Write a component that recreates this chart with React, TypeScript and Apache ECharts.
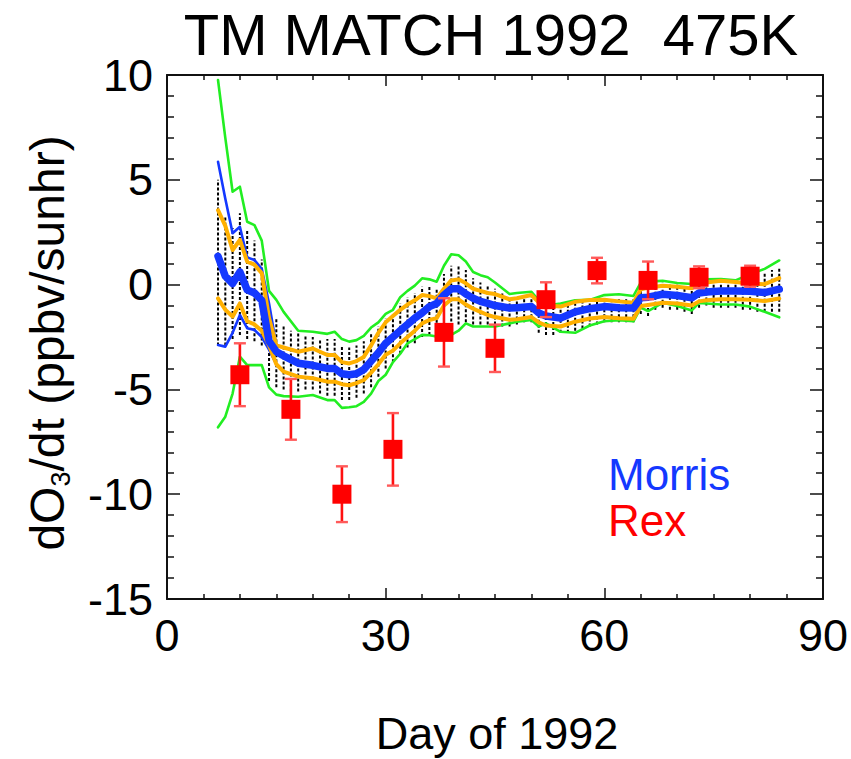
import React, { useEffect, useRef } from "react";
import * as echarts from "echarts";

// ---- data ----
const days = [7, 8, 9, 10, 11, 12, 13, 14, 15, 16, 18, 20, 22, 23, 24, 25, 26, 27, 28, 29, 30, 31, 32, 33, 34, 35, 36, 37, 38, 39, 40, 41, 42, 43, 44, 45, 47, 48, 50, 51, 52, 54, 56, 58, 60, 62, 64, 65, 66, 68, 70, 72, 73, 74, 76, 78, 80, 82, 84];

const morrisMean = [1.35, 0.4, 0.05, 0.6, -0.25, -0.4, -0.75, -2.7, -3.2, -3.4, -3.75, -3.85, -4.0, -4.0, -4.25, -4.3, -4.25, -4.05, -3.65, -3.25, -2.8, -2.5, -2.2, -1.9, -1.6, -1.35, -1.05, -0.9, -0.5, -0.2, -0.2, -0.45, -0.65, -0.8, -0.9, -1.0, -1.12, -1.1, -1.05, -1.35, -1.5, -1.6, -1.3, -1.15, -1.05, -1.1, -1.12, -0.63, -0.6, -0.46, -0.52, -0.63, -0.4, -0.35, -0.3, -0.3, -0.32, -0.38, -0.22];

const orangeUpper = [3.55, 2.8, 1.65, 2.13, 1.1, 0.95, 0.55, -1.6, -2.9, -3.0, -3.2, -3.05, -3.36, -3.36, -3.7, -3.76, -3.65, -3.45, -2.9, -2.3, -1.8, -1.5, -1.2, -0.95, -0.75, -0.5, -0.55, -0.66, -0.2, 0.2, 0.25, 0.06, -0.2, -0.3, -0.4, -0.45, -0.7, -0.65, -0.5, -0.85, -1.0, -1.05, -0.82, -0.73, -0.72, -0.8, -0.87, -0.22, -0.15, -0.06, -0.1, -0.18, 0.05, 0.1, 0.18, 0.12, 0.05, 0.02, 0.31];

const orangeLower = [-0.66, -1.2, -1.53, -0.9, -1.75, -1.9, -2.2, -2.9, -3.8, -4.15, -4.39, -4.47, -4.63, -4.63, -4.75, -4.8, -4.7, -4.55, -4.2, -3.8, -3.35, -3.15, -2.8, -2.5, -2.2, -1.85, -1.69, -1.6, -1.0, -0.7, -0.7, -0.95, -1.15, -1.3, -1.45, -1.55, -1.68, -1.65, -1.55, -1.8, -1.95, -2.0, -1.77, -1.62, -1.55, -1.6, -1.63, -1.02, -0.97, -0.87, -0.9, -1.0, -0.8, -0.75, -0.7, -0.7, -0.72, -0.78, -0.66];

const greenUpper = [9.76, 7.0, 4.43, 4.67, 3.0, 2.84, 2.1, -0.3, -0.73, -1.3, -2.2, -2.25, -2.35, -2.25, -2.6, -2.72, -2.65, -2.45, -2.05, -1.8, -1.4, -1.2, -0.6, -0.3, -0.05, 0.3, 0.25, 0.14, 0.9, 1.45, 1.4, 1.1, 0.6, 0.45, 0.35, 0.1, -0.45, -0.4, -0.34, -0.75, -1.0, -0.9, -0.75, -0.73, -0.5, -0.46, -0.54, 0.1, 0.15, 0.18, 0.08, 0.03, 0.15, 0.25, 0.27, 0.2, 0.5, 0.75, 1.15];

const greenLower = [-6.81, -6.3, -5.2, -3.44, -3.84, -3.84, -3.84, -4.9, -5.25, -5.32, -5.35, -5.27, -5.51, -5.51, -5.88, -5.85, -5.8, -5.6, -5.2, -4.6, -4.3, -3.7, -3.3, -2.8, -2.6, -2.4, -2.42, -2.48, -2.45, -2.4, -2.2, -1.85, -2.0, -2.0, -2.0, -2.0, -1.85, -1.77, -1.69, -2.0, -1.85, -2.25, -2.3, -1.95, -1.75, -1.7, -1.75, -1.1, -1.26, -0.87, -1.02, -1.23, -0.87, -0.9, -0.95, -0.95, -1.05, -1.3, -1.56];

const thinDays = [7, 8, 9, 10, 11, 12, 13, 14, 15];
const blueUpper = [5.86, 4.1, 2.45, 2.76, 1.3, 1.17, 0.75, -0.9, -2.9];
const blueLower = [-2.88, -2.96, -2.3, -1.45, -2.08, -2.16, -2.5, -3.1, -3.8];

const dotDays = [7, 8, 9, 10, 11, 12, 13, 14, 15, 16, 17, 18, 19, 20, 21, 22, 23, 24, 25, 26, 27, 28, 29, 30, 31, 32, 33, 34, 35, 36, 37, 38, 39, 40, 41, 42, 43, 44, 45, 46, 47, 48, 49, 50, 51, 52, 53, 54, 55, 56, 57, 58, 59, 60, 61, 62, 63, 64, 65, 66, 67, 68, 69, 70, 71, 72, 73, 74, 75, 76, 77, 78, 79, 80, 81, 82, 83, 84];
const dotTop = [5.0, 3.3, 2.7, 3.4, 2.6, 2.1, 1.2, -1.3, -1.6, -1.9, -2.2, -2.3, -2.4, -2.5, -2.6, -2.6, -2.6, -2.9, -3.0, -2.9, -2.7, -2.3, -2.0, -1.6, -1.4, -0.9, -0.6, -0.4, -0.1, -0.1, -0.2, 0.5, 0.9, 0.9, 0.7, 0.3, 0.1, 0.0, -0.2, -0.4, -0.6, -0.6, -0.5, -0.5, -0.9, -1.1, -1.1, -1.0, -0.9, -0.9, -0.8, -0.8, -0.7, -0.6, -0.6, -0.6, -0.6, -0.6, 0.0, 0.0, 0.1, 0.1, 0.0, 0.0, -0.1, -0.1, 0.1, 0.2, 0.2, 0.2, 0.2, 0.2, 0.3, 0.4, 0.5, 0.6, 0.7, 0.8];
const dotBottom = [-2.9, -2.9, -2.6, -2.4, -2.6, -2.7, -2.9, -4.6, -4.9, -5.0, -5.1, -5.1, -5.0, -5.0, -5.2, -5.3, -5.3, -5.5, -5.5, -5.4, -5.2, -4.9, -4.4, -4.0, -3.7, -3.3, -3.0, -2.8, -2.5, -2.4, -2.3, -2.2, -2.0, -1.9, -1.8, -1.9, -1.9, -1.9, -1.9, -2.0, -2.0, -1.9, -1.8, -1.8, -2.3, -2.4, -2.4, -2.3, -2.3, -2.2, -2.1, -2.0, -1.9, -1.8, -1.8, -1.8, -1.8, -1.8, -1.4, -1.5, -1.2, -1.1, -1.2, -1.2, -1.3, -1.4, -1.1, -1.0, -1.1, -1.1, -1.1, -1.1, -1.2, -1.2, -1.3, -1.3, -1.3, -1.3];

const rexDays = [10, 17, 24, 31, 38, 45, 52, 59, 66, 73, 80];
const rexValues = [-4.3, -5.95, -10.0, -7.86, -2.28, -3.04, -0.72, 0.67, 0.2, 0.35, 0.4];
const rexErrors = [1.5, 1.45, 1.33, 1.73, 1.63, 1.13, 0.83, 0.61, 0.9, 0.52, 0.5];

const xTicks = [0, 30, 60, 90];
const yTicks = [-15, -5, 0, 5, 10];

const FONT = "'Liberation Sans', Arial, Helvetica, sans-serif";
const BLUE = "#1438ff";
const ORANGE = "#ffb000";
const GREEN = "#22ee22";
const RED = "#ff0000";

const pair = (xs: number[], ys: number[]) => xs.map((x, i) => [x, ys[i]]);

function lineSeries(name: string, xs: number[], ys: number[], color: string, width: number, z: number) {
  return {
    name,
    type: "line",
    data: pair(xs, ys),
    showSymbol: false,
    symbol: "none",
    lineStyle: { color, width, cap: "round", join: "round" },
    z,
    silent: true,
  };
}

export default function App() {
  const ref = useRef<HTMLDivElement>(null);
  useEffect(() => {
    const chart = echarts.init(ref.current!, null, { renderer: "svg" });
    const axisCommon = {
      type: "value",
      axisLine: { show: true, onZero: false, lineStyle: { color: "#111", width: 2 } },
      splitLine: { show: false },
    };
    const xTick = { show: true, inside: true, length: 11, lineStyle: { color: "#111", width: 1.5 } };
    const xMinor = { show: true, splitNumber: 6, length: 5, lineStyle: { color: "#111", width: 1.5 } };
    const yTick = { show: true, inside: true, length: 13, lineStyle: { color: "#111", width: 1.5 } };
    const yMinor = { show: true, splitNumber: 5, length: 7, lineStyle: { color: "#111", width: 1.5 } };
    const option: any = {
      animation: false,
      backgroundColor: "#fff",
      textStyle: { fontFamily: FONT },
      grid: { left: 167, top: 75, width: 657, height: 524 },
      xAxis: [
        {
          ...axisCommon,
          position: "bottom",
          min: xTicks[0],
          max: xTicks[xTicks.length - 1],
          interval: 30,
          axisTick: xTick,
          minorTick: xMinor,
          axisLabel: { fontSize: 45, color: "#000", fontFamily: FONT, margin: 14 },
        },
        {
          ...axisCommon,
          position: "top",
          min: xTicks[0],
          max: xTicks[xTicks.length - 1],
          interval: 30,
          axisTick: xTick,
          minorTick: xMinor,
          axisLabel: { show: false },
        },
      ],
      yAxis: [
        {
          ...axisCommon,
          position: "left",
          min: yTicks[0],
          max: yTicks[yTicks.length - 1],
          interval: 5,
          axisTick: yTick,
          minorTick: yMinor,
          axisLabel: { fontSize: 45, color: "#000", fontFamily: FONT, margin: 14 },
        },
        {
          ...axisCommon,
          position: "right",
          min: yTicks[0],
          max: yTicks[yTicks.length - 1],
          interval: 5,
          axisTick: yTick,
          minorTick: yMinor,
          axisLabel: { show: false },
        },
      ],
      series: [
        {
          name: "spread",
          type: "custom",
          data: dotDays.map((d, i) => [d, dotBottom[i], dotTop[i]]),
          encode: { x: 0, y: [1, 2] },
          z: 1,
          silent: true,
          renderItem: (_p: any, api: any) => {
            const a = api.coord([api.value(0), api.value(1)]);
            const b = api.coord([api.value(0), api.value(2)]);
            return {
              type: "line",
              shape: { x1: a[0], y1: a[1], x2: b[0], y2: b[1] },
              style: { stroke: "#000", lineWidth: 2, lineDash: [3, 2] },
            };
          },
        },
        lineSeries("green upper", days, greenUpper, GREEN, 2.6, 2),
        lineSeries("green lower", days, greenLower, GREEN, 2.6, 2),
        lineSeries("blue upper", thinDays, blueUpper, BLUE, 2.6, 3),
        lineSeries("blue lower", thinDays, blueLower, BLUE, 2.6, 3),
        lineSeries("orange upper", days, orangeUpper, ORANGE, 4, 4),
        lineSeries("orange lower", days, orangeLower, ORANGE, 4, 4),
        lineSeries("Morris", days, morrisMean, BLUE, 7.5, 5),
        {
          name: "Rex error",
          type: "custom",
          data: rexDays.map((d, i) => [d, rexValues[i] - rexErrors[i], rexValues[i] + rexErrors[i]]),
          encode: { x: 0, y: [1, 2] },
          z: 6,
          silent: true,
          renderItem: (_p: any, api: any) => {
            const lo = api.coord([api.value(0), api.value(1)]);
            const hi = api.coord([api.value(0), api.value(2)]);
            const w = 6;
            return {
              type: "group",
              children: [
                { type: "line", shape: { x1: lo[0], y1: lo[1], x2: hi[0], y2: hi[1] }, style: { stroke: "#ff1010", lineWidth: 2.6 } },
                { type: "line", shape: { x1: lo[0] - w, y1: lo[1], x2: lo[0] + w, y2: lo[1] }, style: { stroke: "#ff5a5a", lineWidth: 2.4 } },
                { type: "line", shape: { x1: hi[0] - w, y1: hi[1], x2: hi[0] + w, y2: hi[1] }, style: { stroke: "#ff5a5a", lineWidth: 2.4 } },
              ],
            };
          },
        },
        {
          name: "Rex",
          type: "scatter",
          data: pair(rexDays, rexValues),
          symbol: "rect",
          symbolSize: 19,
          itemStyle: { color: RED, opacity: 1 },
          z: 7,
          silent: true,
        },
      ],
      graphic: [
        {
          type: "text",
          x: 491,
          y: 34,
          style: {
            text: "TM MATCH 1992  475K",
            font: `58px ${FONT}`,
            fill: "#000",
            textAlign: "center",
            textVerticalAlign: "middle",
          },
        },
        {
          type: "text",
          x: 497,
          y: 733,
          style: {
            text: "Day of 1992",
            font: `45px ${FONT}`,
            fill: "#000",
            textAlign: "center",
            textVerticalAlign: "middle",
          },
        },
        {
          type: "text",
          x: 47,
          y: 343,
          rotation: Math.PI / 2,
          style: {
            text: "{a|dO}{s|3}{a|/dt (ppbv/sunhr)}",
            fill: "#000",
            textAlign: "center",
            textVerticalAlign: "middle",
            rich: {
              a: { fontSize: 48, fontFamily: FONT, fill: "#000", lineHeight: 54 },
              s: { fontSize: 27, fontFamily: FONT, fill: "#000", lineHeight: 54, verticalAlign: "bottom", padding: [15, 0, 0, 0] },
            },
          },
        },
        {
          type: "text",
          x: 608,
          y: 474,
          style: { text: "Morris", font: `44px ${FONT}`, fill: BLUE, textAlign: "left", textVerticalAlign: "middle" },
        },
        {
          type: "text",
          x: 608,
          y: 520,
          style: { text: "Rex", font: `44px ${FONT}`, fill: RED, textAlign: "left", textVerticalAlign: "middle" },
        },
      ],
    };
    chart.setOption(option);
    return () => chart.dispose();
  }, []);
  return <div ref={ref} style={{ position: "fixed", left: 0, top: 0, width: 851, height: 759 }} />;
}
